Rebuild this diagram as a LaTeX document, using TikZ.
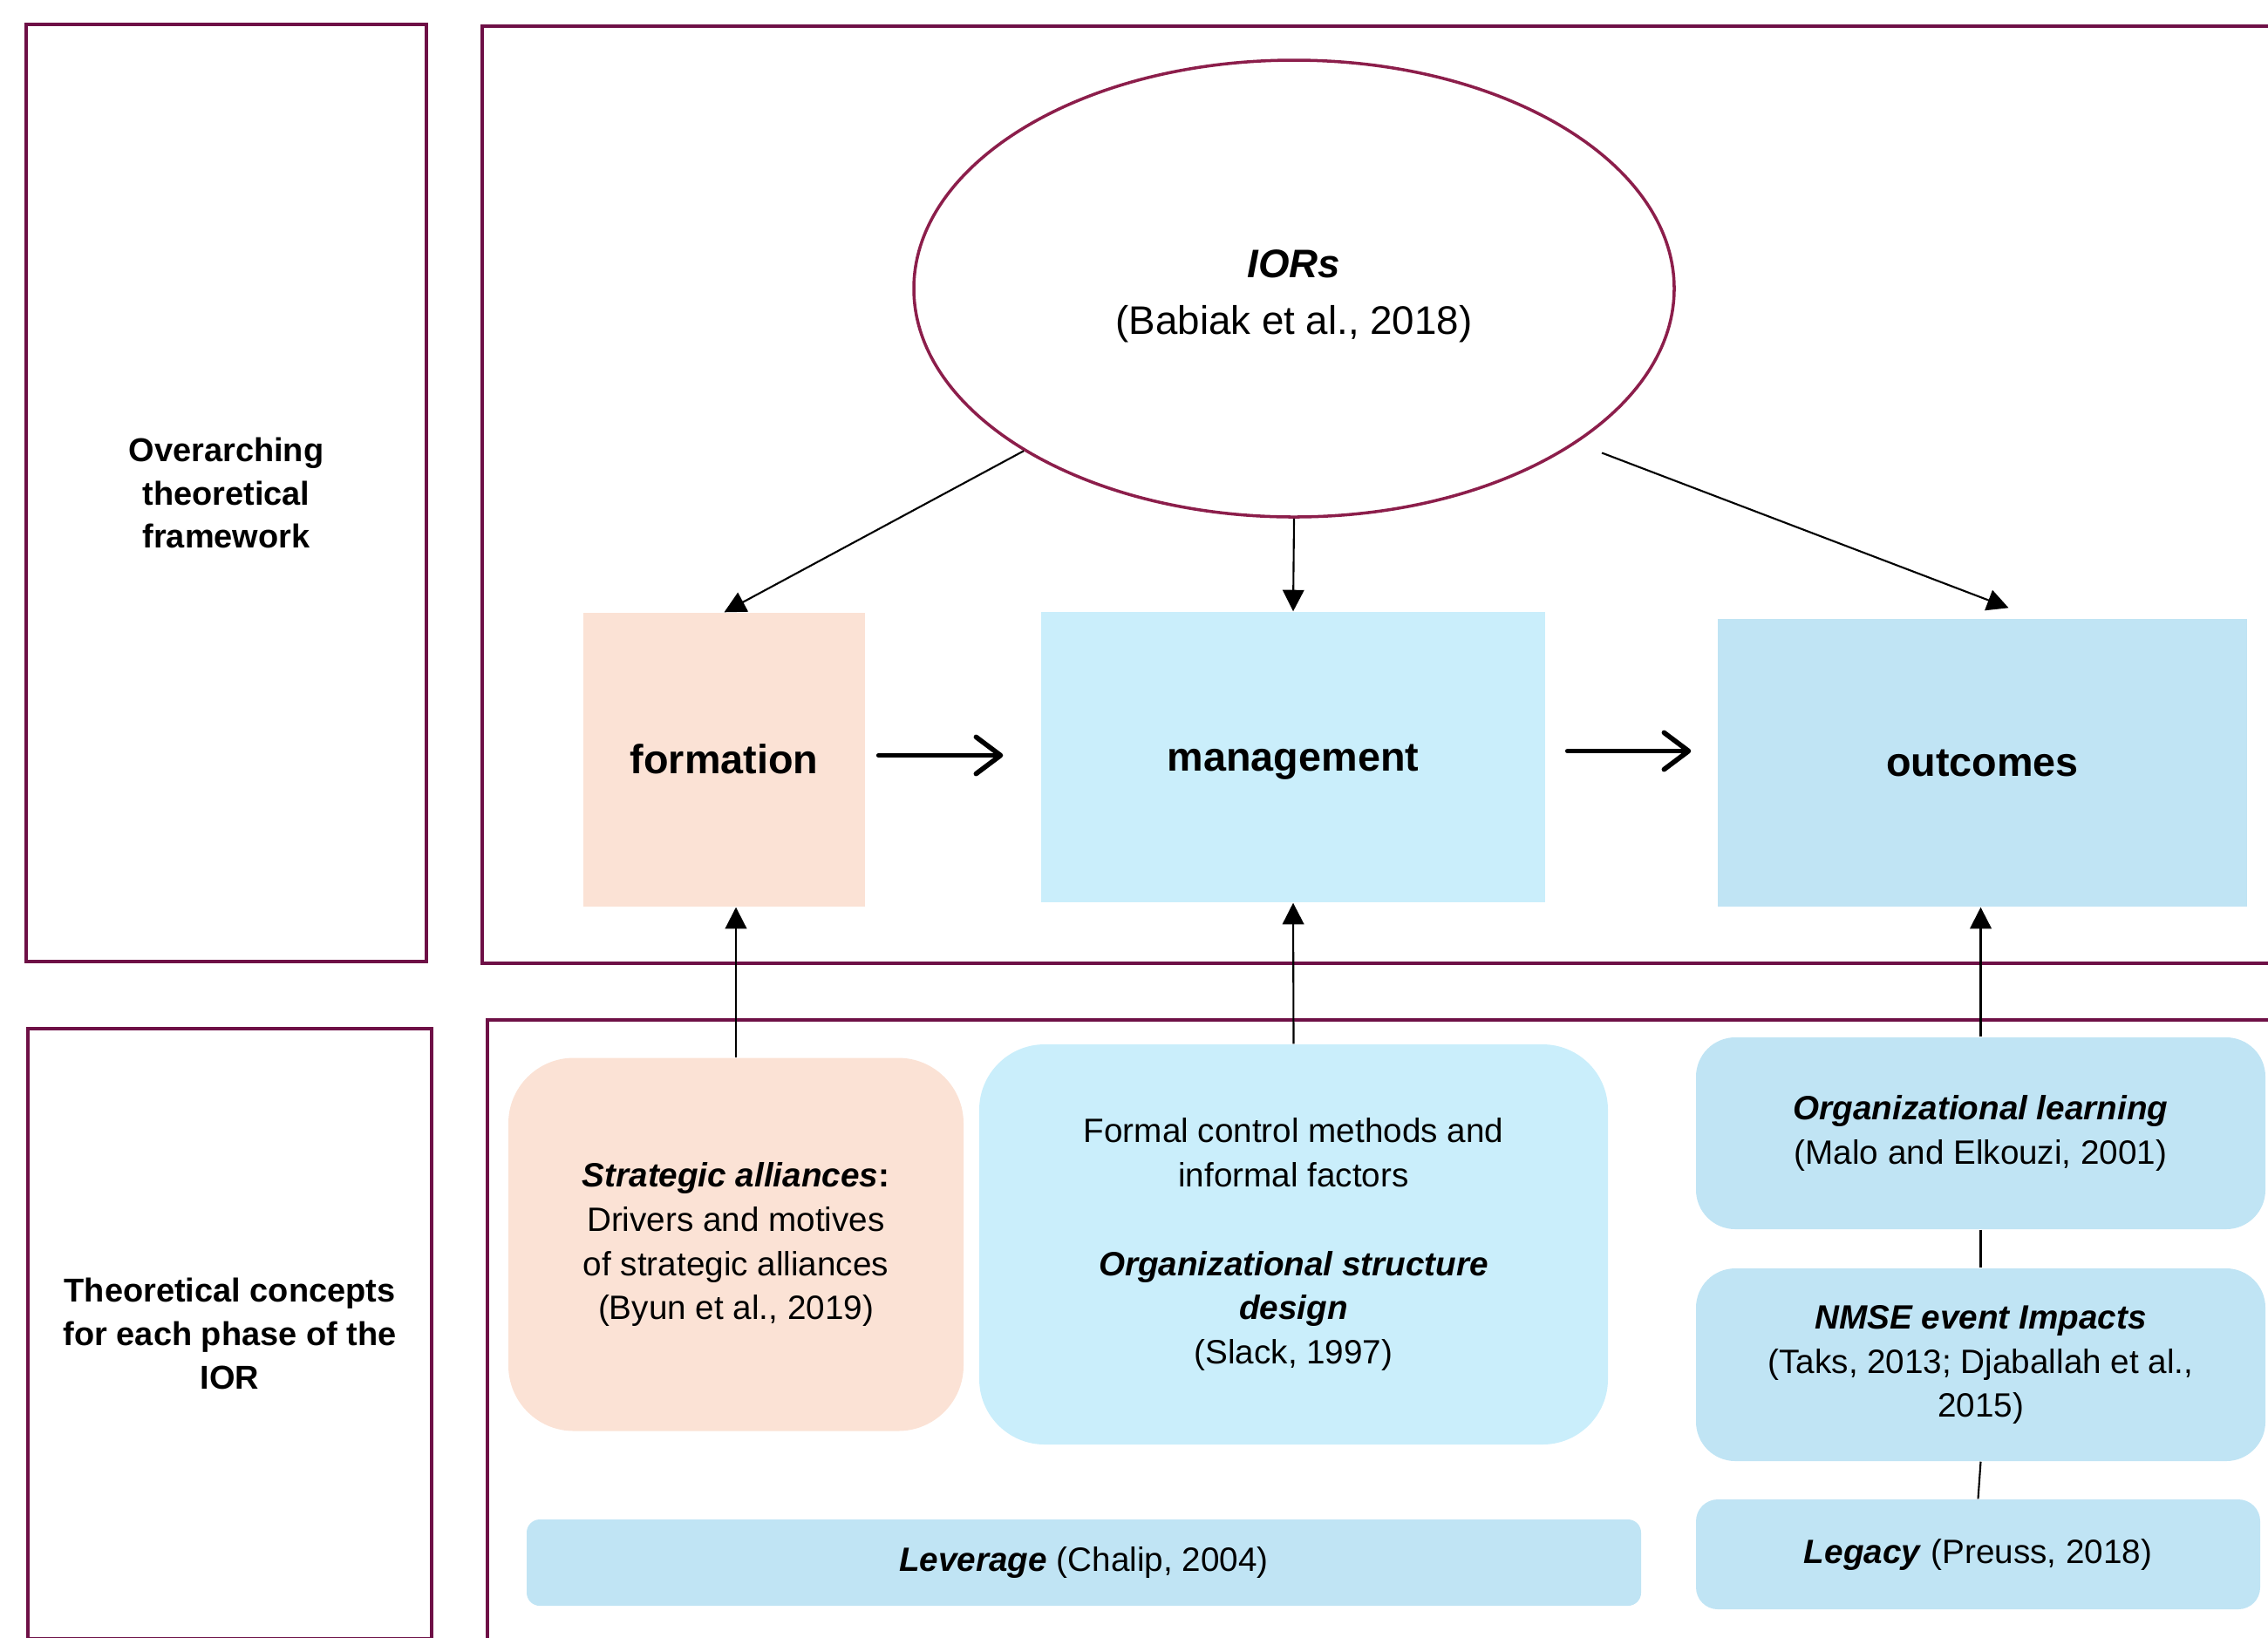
\documentclass[tikz,border=0pt]{standalone}
\usepackage{fontspec}
\setmainfont{Liberation Sans}
\usetikzlibrary{
  shapes.geometric,
  arrows.meta,
  positioning
}
\definecolor{framered}{RGB}{110,16,70}
\definecolor{iorred}{RGB}{140,30,75}
\definecolor{peach}{RGB}{251,226,213}
\definecolor{paleblue}{RGB}{202,238,251}
\definecolor{skyblue}{RGB}{192,228,244}

\begin{document}
\begin{tikzpicture}[
  framebox/.style = {rectangle, draw=framered, line width=1.2pt,
    align=center, inner sep=0pt,
    font=\bfseries\fontsize{10.8}{14.2}\selectfont},
  phase/.style = {rectangle, inner sep=0pt, text height=1.1em,
    text depth=0.2em, font=\bfseries\fontsize{13.3}{16}\selectfont},
  concept/.style = {rectangle, rounded corners=0.75cm, inner sep=0pt,
    align=center, font=\fontsize{11}{14.5}\selectfont},
  link/.style = {line width=0.6pt, -{Triangle[length=7pt,width=7pt]}},
  flow/.style = {line width=1.6pt, line cap=round,
    -{Straight Barb[length=8pt,width=12pt,round]}}]
  \path[use as bounding box, clip] (0,0) rectangle (26.01,-18.78);
  \node[framebox, minimum width=4.59cm, minimum height=10.75cm] (overarch)
    at (2.595,-5.655) {Overarching\\theoretical\\framework};
  \node[framebox, minimum width=21cm, minimum height=10.75cm,
    anchor=north west] (topframe) at (5.51,-0.28) {};
  \node[framebox, minimum width=4.63cm, minimum height=7.0cm,
    anchor=north west] (concepts) at (0.30,-11.78)
    {Theoretical concepts\\for each phase of the\\IOR};
  \node[framebox, minimum width=21cm, minimum height=7.5cm,
    anchor=north west] (bottomframe) at (5.57,-11.68) {};
  \node[ellipse, draw=iorred, line width=1pt, minimum width=8.72cm,
    minimum height=5.24cm, inner sep=0pt, align=center,
    font=\fontsize{13}{18.4}\selectfont] (ior) at (14.84,-3.31)
    {\rule{0pt}{14pt}\textbf{\textit{IORs}}\\(Babiak et al., 2018)};
  \node[phase, fill=peach, minimum width=3.23cm, minimum height=3.37cm]
    (formation) at (8.305,-8.715) {formation};
  \node[phase, fill=paleblue, minimum width=5.78cm, minimum height=3.33cm]
    (management) at (14.83,-8.685) {management};
  \node[phase, fill=skyblue, minimum width=6.07cm, minimum height=3.30cm]
    (outcomes) at (22.735,-8.75) {outcomes};
  \node[concept, fill=peach, minimum width=5.22cm, minimum height=4.28cm]
    (alliances) at (8.44,-14.275)
    {\textbf{\textit{Strategic alliances}:}\\Drivers and motives\\
     of strategic alliances\\(Byun et al., 2019)};
  \node[concept, fill=paleblue, minimum width=7.21cm, minimum height=4.59cm]
    (control) at (14.835,-14.275)
    {Formal control methods and\\informal factors\\[14.5pt]
     \textbf{\textit{Organizational structure}}\\\textbf{\textit{design}}\\
     (Slack, 1997)};
  \node[concept, fill=skyblue, rounded corners=0.15cm, minimum width=12.78cm,
    minimum height=0.99cm] (leverage) at (12.43,-17.925)
    {\textbf{\textit{Leverage}} (Chalip, 2004)};
  \node[concept, fill=skyblue, rounded corners=0.45cm, minimum width=6.53cm,
    minimum height=2.2cm] (learning) at (22.715,-13.0)
    {\textbf{\textit{Organizational learning}}\\(Malo and Elkouzi, 2001)};
  \node[concept, fill=skyblue, rounded corners=0.45cm, minimum width=6.53cm,
    minimum height=2.21cm] (impacts) at (22.715,-15.655)
    {\textbf{\textit{NMSE event Impacts}}\\(Taks, 2013; Djaballah et al.,\\2015)};
  \node[concept, fill=skyblue, rounded corners=0.25cm, minimum width=6.47cm,
    minimum height=1.26cm] (legacy) at (22.685,-17.83)
    {\textbf{\textit{Legacy}} (Preuss, 2018)};
  \draw[link] (ior.211) -- (formation.north);
  \draw[link] (ior.south) -- (management.north);
  \draw[link] ([xshift=3.7mm,yshift=-0.6mm]ior.330)
    -- ([xshift=3mm,yshift=1.2mm]outcomes.north);
  \draw[flow] ([xshift=1.5mm,yshift=0.5mm]formation.east)
    -- ([xshift=-4.3mm,yshift=0.5mm]formation.east -| management.west);
  \draw[flow] ([xshift=2.5mm,yshift=0.7mm]management.east)
    -- ([xshift=-3mm,yshift=0.7mm]management.east -| outcomes.west);
  \draw[link] (alliances.north) -- (alliances.north |- formation.south);
  \draw[link] (control.north) -- (management.south);
  \draw[link] (learning.north) -- (learning.north |- outcomes.south);
  \draw[line width=0.6pt] (learning.south) -- (impacts.north);
  \draw[line width=0.6pt] (impacts.south) -- (legacy.north);
\end{tikzpicture}
\end{document}
